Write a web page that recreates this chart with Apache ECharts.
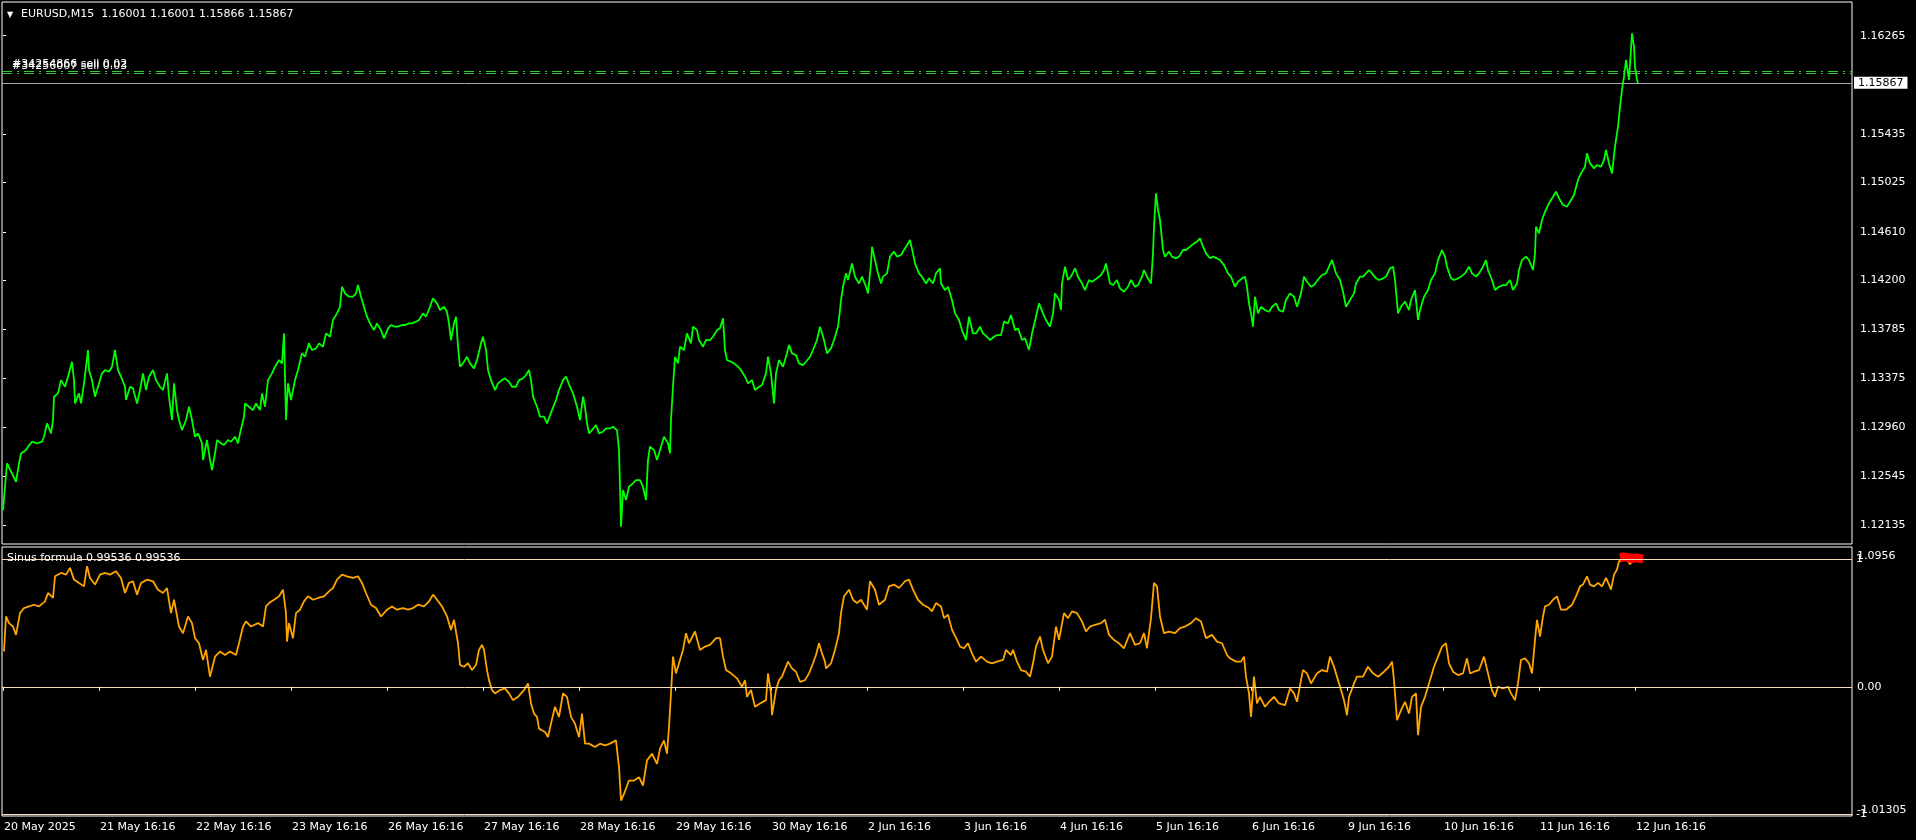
<!DOCTYPE html>
<html>
<head>
<meta charset="utf-8">
<script src="https://cdn.jsdelivr.net/npm/echarts@6/dist/echarts.min.js"></script>
<style>html,body{margin:0;padding:0;background:#000;}#c{width:1916px;height:840px;}</style>
</head>
<body>
<div id="c"></div>
<script>
// ---- Data (bar index on M15, 96 bars per day) ----
const priceA = [
[0,1.12261],[4,1.12655],[13,1.12500],[16,1.12655],[18,1.12739],[23,1.12767],[25,1.12796],[29,1.12838],[34,1.12824],[39,1.12838],
[41,1.12880],[44,1.12993],[48,1.12908],[50,1.13021],[51,1.13218],[55,1.13246],[58,1.13358],[62,1.13302],[65,1.13387],[69,1.13513],
[71,1.13358],[72,1.13161],[76,1.13246],[78,1.13161],[81,1.13330],[85,1.13612],[86,1.13443],[89,1.13358],[92,1.13218],[95,1.13302],
[99,1.13415],[102,1.13443],[106,1.13429],[109,1.13471],[112,1.13612],[115,1.13443],[118,1.13387],[122,1.13302],[123,1.13190],[127,1.13302],
[130,1.13288],[134,1.13161],[137,1.13274],[140,1.13415],[143,1.13274],[146,1.13387],[150,1.13443],[153,1.13358],[157,1.13302],[160,1.13274],
[164,1.13415],[166,1.13218],[169,1.13021],[171,1.13330],[174,1.13105],[176,1.13021],[179,1.12936],[183,1.13021],[186,1.13133],[189,1.13021],
[192,1.12880],[195,1.12908],[199,1.12824],[200,1.12683],[204,1.12852],[207,1.12683],[209,1.12599],[212,1.12739],[214,1.12852],[218,1.12824],
[221,1.12810],[225,1.12852],[228,1.12838],[232,1.12880],[235,1.12824],[237,1.12908],[241,1.13049],[242,1.13161],[246,1.13133],[250,1.13105],
[253,1.13161],[257,1.13105],[259,1.13246],[262,1.13133],[265,1.13358],[269,1.13415],[272,1.13471],[276,1.13527],[279,1.13499],[281,1.13752],
[283,1.13021],[285,1.13330],[288,1.13190],[292,1.13358],[295,1.13443],[299,1.13584],[302,1.13555],[306,1.13668],[309,1.13612],[313,1.13626],
[316,1.13668],[320,1.13640],[323,1.13752],[327,1.13724],[330,1.13865],[334,1.13921],[337,1.13977],[339,1.14146],[342,1.14090],[346,1.14062],
[350,1.14062],[353,1.14090],[355,1.14160],[358,1.14062],[361,1.13977],[364,1.13893],[367,1.13837],[371,1.13780],[374,1.13837],[378,1.13780],
[381,1.13710],[385,1.13795],[388,1.13823],[392,1.13809],[395,1.13809],[399,1.13823],[402,1.13823],[406,1.13837],[409,1.13837],[413,1.13851],
[416,1.13865],[420,1.13921],[423,1.13893],[427,1.13977],[430,1.14048],[434,1.14006],[437,1.13949],[441,1.13977],[444,1.13935],[446,1.13837],
[448,1.13696],[451,1.13837],[453,1.13893],[455,1.13640],[457,1.13471],[460,1.13499],[464,1.13555],[467,1.13499],[471,1.13457],[474,1.13527],
[478,1.13668],[480,1.13724],[483,1.13612],[485,1.13443],[488,1.13358],[492,1.13274],[495,1.13330],[499,1.13358],[502,1.13373],[506,1.13344],
[509,1.13302],[513,1.13302],[516,1.13358],[520,1.13373],[523,1.13401],[526,1.13443],[528,1.13358],[530,1.13218],[534,1.13133],[537,1.13049],
[541,1.13049],[544,1.12993]
];
const priceB = [
[546,1.12979],[549,1.13105],[553,1.13190],[556,1.13274],[560,1.13358],[563,1.13387],[567,1.13302],[570,1.13246],[574,1.13133],[577,1.13021],
[580,1.13218],[582,1.13133],[584,1.12993],[586,1.12908],[589,1.12936],[593,1.12979],[596,1.12908],[600,1.12922],[603,1.12950],[607,1.12950],
[610,1.12964],[614,1.12936],[616,1.12767],[617,1.12458],[618,1.12120],[620,1.12430],[623,1.12345],[626,1.12458],[630,1.12486],[633,1.12514],
[637,1.12514],[640,1.12458],[643,1.12345],[645,1.12683],[647,1.12796],[651,1.12767],[654,1.12683],[658,1.12796],[661,1.12880],[665,1.12824],
[667,1.12739],[668,1.13021],[670,1.13302],[672,1.13555],[675,1.13499],[677,1.13640],[681,1.13612],[684,1.13752],[688,1.13668],[690,1.13809],
[694,1.13780],[696,1.13696],[700,1.13640],[703,1.13696],[707,1.13696],[710,1.13724],[714,1.13780],[717,1.13795],[720,1.13879],[722,1.13612],
[724,1.13527],[728,1.13513],[731,1.13499],[735,1.13471],[738,1.13443],[742,1.13387],[745,1.13330],[749,1.13358],[752,1.13274],[756,1.13302],
[759,1.13316],[763,1.13415],[765,1.13555],[768,1.13415],[771,1.13161],[773,1.13415],[776,1.13527],[780,1.13471],[784,1.13584],[786,1.13654],
[789,1.13584],[793,1.13569],[796,1.13499],[800,1.13485],[803,1.13513],[807,1.13555],[810,1.13612],[814,1.13696],[817,1.13809],[821,1.13696],
[824,1.13584],[828,1.13626],[831,1.13696],[835,1.13809],[837,1.13949],[838,1.14034],[840,1.14146],[843,1.14259],[845,1.14203],[849,1.14343],
[852,1.14231],[856,1.14174],[859,1.14231],[863,1.14146],[865,1.14090],[868,1.14343],[869,1.14484],[872,1.14371],[875,1.14259],[878,1.14174],
[880,1.14231],[884,1.14259],[887,1.14400],[891,1.14442],[894,1.14400],[898,1.14414],[901,1.14456],[905,1.14512],[907,1.14540],[910,1.14428],
[912,1.14343],[916,1.14259],[919,1.14231],[923,1.14174],[926,1.14217],[930,1.14174],[933,1.14259],[937,1.14301],[938,1.14174],[942,1.14118],
[945,1.14146],[949,1.14034],[952,1.13921],[956,1.13865],[959,1.13780],[963,1.13696],[966,1.13893],[970,1.13752],[973,1.13752],[977,1.13809],
[980,1.13752],[984,1.13724],[987,1.13696],[991,1.13724],[994,1.13738],[998,1.13738],[1001,1.13851],[1005,1.13837],[1008,1.13907],[1012,1.13780],
[1015,1.13795],[1019,1.13696],[1022,1.13710],[1026,1.13612],[1029,1.13752],[1033,1.13893],[1036,1.14006],[1040,1.13921],[1043,1.13865],[1047,1.13809],
[1050,1.13921],[1052,1.14090],[1056,1.14034],[1058,1.13949],[1059,1.14174],[1062,1.14315],[1065,1.14203],[1068,1.14231],[1072,1.14301],[1075,1.14231],
[1079,1.14174],[1082,1.14118],[1086,1.14203],[1089,1.14188]
];
const priceC = [
[1091,1.14188],[1094,1.14217],[1098,1.14245],[1101,1.14287],[1103,1.14343],[1107,1.14174],[1110,1.14160],[1114,1.14203],[1117,1.14132],[1121,1.14104],
[1125,1.14146],[1128,1.14203],[1132,1.14146],[1135,1.14160],[1139,1.14231],[1141,1.14287],[1144,1.14231],[1148,1.14174],[1150,1.14428],[1151,1.14653],
[1153,1.14934],[1155,1.14794],[1157,1.14709],[1158,1.14625],[1160,1.14456],[1162,1.14400],[1166,1.14442],[1169,1.14400],[1173,1.14386],[1176,1.14400],
[1180,1.14456],[1183,1.14456],[1187,1.14484],[1191,1.14512],[1194,1.14526],[1197,1.14554],[1200,1.14484],[1203,1.14428],[1207,1.14386],[1210,1.14400],
[1214,1.14386],[1217,1.14371],[1221,1.14329],[1225,1.14259],[1228,1.14231],[1232,1.14146],[1235,1.14188],[1239,1.14217],[1242,1.14231],[1244,1.14146],
[1246,1.14006],[1248,1.13921],[1250,1.13809],[1252,1.14062],[1255,1.13921],[1258,1.13977],[1262,1.13949],[1266,1.13935],[1269,1.13977],[1273,1.14006],
[1276,1.13949],[1280,1.13935],[1283,1.14034],[1287,1.14090],[1291,1.14062],[1294,1.13977],[1298,1.14090],[1301,1.14231],[1304,1.14188],[1308,1.14146],
[1311,1.14160],[1316,1.14217],[1319,1.14245],[1323,1.14259],[1326,1.14315],[1329,1.14371],[1333,1.14259],[1337,1.14203],[1340,1.14104],[1343,1.13977],
[1347,1.14034],[1351,1.14090],[1353,1.14174],[1357,1.14231],[1360,1.14231],[1366,1.14287],[1369,1.14259],[1373,1.14217],[1376,1.14203],[1380,1.14217],
[1383,1.14231],[1387,1.14301],[1390,1.14315],[1392,1.14203],[1395,1.13921],[1398,1.13977],[1402,1.14020],[1406,1.13949],[1408,1.14034],[1412,1.14118],
[1415,1.13865],[1417,1.13949],[1421,1.14062],[1425,1.14118],[1428,1.14203],[1432,1.14259],[1435,1.14371],[1439,1.14456],[1442,1.14400],[1444,1.14315],
[1448,1.14217],[1451,1.14203],[1455,1.14217],[1458,1.14231],[1462,1.14259],[1466,1.14315],[1469,1.14259],[1473,1.14231],[1476,1.14259],[1480,1.14315],
[1483,1.14371],[1485,1.14287],[1489,1.14203],[1492,1.14118],[1496,1.14146],[1500,1.14160],[1503,1.14160],[1507,1.14203],[1510,1.14118],[1514,1.14174],
[1516,1.14287],[1519,1.14371],[1523,1.14400],[1526,1.14371],[1530,1.14287],[1532,1.14428],[1533,1.14653],[1536,1.14597],[1539,1.14709],[1542,1.14779],
[1546,1.14850],[1550,1.14906],[1553,1.14948],[1557,1.14878],[1560,1.14836],[1564,1.14822],[1567,1.14864],[1571,1.14920],[1575,1.15047],[1578,1.15103],
[1582,1.15159],[1584,1.15272],[1587,1.15187],[1591,1.15145],[1594,1.15173],[1598,1.15159],[1601,1.15216],[1603,1.15300],[1606,1.15187],[1609,1.15103],
[1612,1.15328],[1615,1.15497],[1617,1.15666],[1619,1.15807],[1621,1.15919],[1623,1.16060],[1626,1.15891],[1629,1.16285],[1631,1.16172],[1632,1.16004],
[1634,1.15891],[1635,1.15867]
];
const sinusA = [
[1,0.276],[3,0.551],[6,0.499],[10,0.472],[13,0.407],[17,0.577],[21,0.617],[26,0.630],[31,0.643],[36,0.630],
[42,0.669],[45,0.735],[50,0.696],[52,0.866],[58,0.892],[63,0.879],[67,0.932],[71,0.840],[76,0.814],[81,0.787],
[84,0.945],[87,0.853],[92,0.801],[97,0.879],[102,0.892],[107,0.879],[113,0.906],[118,0.853],[122,0.735],[126,0.814],
[130,0.827],[134,0.722],[138,0.814],[144,0.840],[150,0.827],[155,0.761],[160,0.735],[164,0.774],[168,0.577],[171,0.682],
[176,0.472],[180,0.420],[185,0.551],[189,0.499],[192,0.381],[196,0.341],[200,0.210],[203,0.289],[207,0.079],[212,0.236],
[217,0.276],[222,0.249],[227,0.276],[233,0.249],[236,0.341],[240,0.472],[243,0.512],[248,0.472],[255,0.499],[260,0.472],
[263,0.630],[266,0.656],[271,0.682],[276,0.709],[280,0.761],[283,0.577],[284,0.354],[286,0.499],[290,0.381],[293,0.577],
[297,0.604],[301,0.669],[305,0.709],[310,0.682],[315,0.696],[321,0.709],[326,0.748],[330,0.774],[334,0.840],[339,0.879],
[344,0.866],[350,0.853],[355,0.866],[359,0.814],[363,0.735],[368,0.643],[373,0.617],[378,0.551],[384,0.604],[389,0.630],
[394,0.604],[400,0.617],[405,0.604],[410,0.617],[415,0.643],[421,0.630],[426,0.669],[430,0.722],[434,0.682],[439,0.630],
[444,0.551],[448,0.446],[451,0.525],[455,0.341],[457,0.171],[461,0.157],[465,0.184],[469,0.131],[473,0.171],[476,0.289],
[479,0.328],[481,0.289],[484,0.131],[486,0.052],[489,-0.026],[492,-0.052],[497,-0.026],[502,-0.013],[506,-0.052],[510,-0.105],
[515,-0.079],[521,-0.026],[525,0.026],[528,-0.131],[531,-0.210],[534,-0.236],[536,-0.328],[542,-0.354],[545,-0.394],[548,-0.289],
[552,-0.157],[556,-0.236],[560,-0.052],[564,-0.079],[568,-0.236],[572,-0.289],[576,-0.394],[579,-0.210],[582,-0.446],[586,-0.446],
[592,-0.472],[597,-0.446],[602,-0.459],[607,-0.446],[613,-0.420],[616,-0.630],[618,-0.892],[621,-0.840],[626,-0.735],[631,-0.735],
[636,-0.709],[640,-0.774],[644,-0.577],[649,-0.525],[654,-0.604],[657,-0.485],[661,-0.420],[664,-0.525],[666,-0.315],[668,-0.052],
[670,0.236],[673,0.105],[677,0.210],[680,0.289],[683,0.420],[686,0.341],[692,0.433],[697,0.289],[702,0.315],[707,0.328],
[713,0.381],[717,0.381],[720,0.236],[723,0.131],[728,0.105],[734,0.066],[739,0.000],[742,0.052],[744,-0.079],[748,-0.026],
[752,-0.157],[757,-0.131],[763,-0.105],[765,0.105],[768,-0.052],[769,-0.223],[773,-0.026],[776,0.052],[779,0.079],[785,0.197],
[789,0.144],[793,0.118],[797,0.039],[802,0.052],[806,0.105],[810,0.184],[813,0.249],[816,0.341],[819,0.262],[822,0.197]
];
const sinusB = [
[823,0.144],[828,0.184],[832,0.289],[836,0.420],[838,0.577],[841,0.709],[846,0.761],[850,0.682],[854,0.656],[858,0.682],
[864,0.604],[867,0.827],[872,0.761],[876,0.643],[882,0.682],[886,0.787],[891,0.801],[896,0.774],[902,0.827],[906,0.840],
[910,0.761],[915,0.682],[920,0.643],[926,0.617],[929,0.591],[933,0.656],[938,0.630],[941,0.538],[945,0.564],[949,0.446],
[954,0.367],[957,0.315],[961,0.302],[965,0.341],[969,0.262],[973,0.197],[978,0.236],[984,0.197],[989,0.184],[994,0.197],
[1000,0.210],[1003,0.289],[1008,0.249],[1010,0.289],[1014,0.197],[1018,0.131],[1023,0.118],[1027,0.079],[1030,0.184],[1033,0.315],
[1037,0.394],[1040,0.289],[1045,0.184],[1049,0.236],[1053,0.472],[1056,0.367],[1061,0.577],[1065,0.538],[1069,0.591],[1074,0.577],
[1079,0.512],[1083,0.433],[1087,0.472],[1092,0.486],[1098,0.499],[1102,0.525],[1106,0.407],[1111,0.367],[1116,0.341],[1121,0.302],
[1127,0.420],[1132,0.328],[1137,0.341],[1141,0.420],[1144,0.302],[1148,0.538],[1151,0.814],[1154,0.787],[1157,0.551],[1161,0.420],
[1166,0.433],[1172,0.420],[1177,0.459],[1182,0.472],[1188,0.499],[1193,0.538],[1198,0.512],[1203,0.381],[1209,0.407],[1214,0.354],
[1219,0.341],[1224,0.249],[1227,0.223],[1233,0.197],[1238,0.197],[1241,0.236],[1243,0.079],[1246,-0.052],[1248,-0.236],[1251,0.079],
[1254,-0.131],[1257,-0.079],[1262,-0.157],[1266,-0.118],[1271,-0.079],[1276,-0.131],[1282,-0.144],[1287,-0.013],[1291,-0.052],[1294,-0.118],
[1298,0.052],[1300,0.131],[1304,0.105],[1308,0.026],[1314,0.105],[1319,0.131],[1324,0.118],[1327,0.236],[1331,0.157],[1335,0.052],
[1338,-0.026],[1341,-0.105],[1344,-0.223],[1346,-0.079],[1351,0.026],[1354,0.079],[1360,0.079],[1365,0.157],[1370,0.105],[1375,0.079],
[1381,0.118],[1386,0.157],[1389,0.197],[1391,0.052],[1394,-0.262],[1398,-0.184],[1402,-0.118],[1406,-0.210],[1409,-0.079],[1413,-0.052],
[1415,-0.380],[1418,-0.157],[1422,-0.079],[1426,0.026],[1431,0.157],[1435,0.236],[1439,0.315],[1443,0.341],[1446,0.184],[1450,0.118],
[1455,0.092],[1460,0.105],[1464,0.223],[1467,0.105],[1471,0.118],[1476,0.131],[1481,0.236],[1485,0.105],[1489,-0.026],[1492,-0.079],
[1495,0.000],[1500,-0.013],[1505,0.000],[1508,-0.052],[1512,-0.105],[1515,0.026],[1518,0.210],[1522,0.223],[1526,0.184],[1529,0.105],
[1532,0.367],[1534,0.525],[1537,0.394],[1540,0.551],[1542,0.630],[1546,0.643],[1550,0.682],[1554,0.709],[1558,0.604],[1563,0.604],
[1569,0.643],[1573,0.709],[1577,0.787],[1580,0.801],[1584,0.866],[1587,0.801],[1591,0.787],[1595,0.814],[1599,0.787],[1603,0.853],
[1606,0.801],[1608,0.761],[1611,0.879],[1614,0.919],[1616,0.984],[1620,0.990],[1624,1.000],[1627,0.960],[1630,0.990],[1634,0.995]
];
const sinusRed = [[1617,1.012],[1621,1.018],[1625,1.012],[1629,1.005],[1633,1.010],[1637,1.005],[1640,1.003]];

const xTickBars = [0,96,192,288,384,480,576,672,768,864,960,1056,1152,1248,1344,1440,1536,1632];
const xTickLabels = ['20 May 2025','21 May 16:16','22 May 16:16','23 May 16:16','26 May 16:16','27 May 16:16','28 May 16:16','29 May 16:16','30 May 16:16','2 Jun 16:16','3 Jun 16:16','4 Jun 16:16','5 Jun 16:16','6 Jun 16:16','9 Jun 16:16','10 Jun 16:16','11 Jun 16:16','12 Jun 16:16'];
const priceTicks = [1.12135,1.12545,1.12960,1.13375,1.13785,1.14200,1.14610,1.15025,1.15435,1.16265];
const sinusTicks = [-1.01305,0,1.0956];
const sinusTickLabels = ['-1.01305','0.00','1.0956'];
const sinusLevelTicks = [-1,1];
const sinusLevelLabels = ['-1','1'];
const priceRange = [1.119745, 1.165495];
const sinusRange = [-1.01305, 1.0956];
const lastPrice = 1.15867;
const orders = [{price:1.15967, text:'#34254866 sell 0.02'},{price:1.15950, text:'#34256007 sell 0.03'}];
const sinusLevels = [1, 0, -1];
const headerText = 'EURUSD,M15  1.16001 1.16001 1.15866 1.15867';
const sinusText = 'Sinus formula 0.99536 0.99536';

const FONT = '"DejaVu Sans", Verdana, sans-serif';
const chart = echarts.init(document.getElementById('c'), null, {renderer:'canvas', width:1916, height:840});
const price = priceA.concat(priceB, priceC);
const sinus = sinusA.concat(sinusB);

const option = {
  backgroundColor:'#000',
  animation:false,
  textStyle:{fontFamily:FONT},
  grid:[
    {left:2, top:2, width:1850, height:542, show:true, borderColor:'#fff', borderWidth:1},
    {left:2, top:547, width:1850, height:269, show:true, borderColor:'#fff', borderWidth:1}
  ],
  xAxis:[
    {gridIndex:0, type:'value', min:-1, max:1849, show:false},
    {gridIndex:1, type:'value', min:-1, max:1849, splitLine:{show:false}, axisLine:{show:false},
     axisTick:{show:true, customValues:xTickBars, length:4, lineStyle:{color:'#fff'}},
     axisLabel:{customValues:xTickBars, formatter:v=>xTickLabels[Math.round(v/96)], color:'#fff', fontSize:11, fontFamily:FONT, align:'left', margin:6, padding:[0,0,0,1], hideOverlap:false}}
  ],
  yAxis:[
    {gridIndex:0, type:'value', position:'right', min:priceRange[0], max:priceRange[1], splitLine:{show:false}, axisLine:{show:false},
     axisTick:{show:true, customValues:priceTicks, length:3, lineStyle:{color:'#fff'}},
     axisLabel:{customValues:priceTicks, formatter:v=>v.toFixed(5), color:'#fff', fontSize:11, fontFamily:FONT, margin:8, hideOverlap:false}},
    {gridIndex:1, type:'value', position:'right', min:sinusRange[0], max:sinusRange[1], splitLine:{show:false}, axisLine:{show:false},
     axisTick:{show:false},
     axisLabel:{customValues:sinusTicks, color:'#fff', fontSize:11, fontFamily:FONT, margin:5, hideOverlap:false,
       showMinLabel:true, showMaxLabel:true,
       formatter:v=>{
         let i = sinusTicks.findIndex(t=>Math.abs(t-v)<1e-6);
         const s = sinusTickLabels[i];
         if (i===2) return '{t|'+s+'}';
         if (i===0) return '{b|'+s+'}';
         return s;
       },
       rich:{t:{padding:[18,0,0,0], color:'#fff', fontSize:11, fontFamily:FONT}, b:{padding:[0,0,12,0], color:'#fff', fontSize:11, fontFamily:FONT}}}},
    {gridIndex:1, type:'value', position:'right', min:sinusRange[0], max:sinusRange[1], splitLine:{show:false}, axisLine:{show:false},
     axisTick:{show:false},
     axisLabel:{customValues:sinusLevelTicks, color:'#fff', fontSize:11, fontFamily:FONT, margin:4, hideOverlap:false,
       formatter:v=>sinusLevelLabels[v<0?0:1],
       rich:{}}}
  ],
  graphic:[
    {type:'text', left:7, top:11, z:100, style:{text:'▼', fill:'#fff', font:'8px '+FONT}},
    {type:'text', left:21, top:9, z:100, style:{text:headerText, fill:'#fff', font:'11px '+FONT}},
    {type:'text', left:7, top:553, z:100, style:{text:sinusText, fill:'#fff', font:'11px '+FONT}}
  ],
  series:[
    {type:'line', xAxisIndex:0, yAxisIndex:0, data:price, showSymbol:false, silent:true,
     lineStyle:{color:'#00ff00', width:1.8}, z:3,
     markLine:{silent:true, symbol:['none','none'], animation:false, precision:5,
       data:[
         {yAxis:lastPrice, lineStyle:{color:'#a8a8a8', type:'solid', width:1},
          label:{show:true, position:'end', formatter:lastPrice.toFixed(5), backgroundColor:'#fff', color:'#000', padding:[1,4,0,4], fontSize:11, fontFamily:FONT, distance:2}},
         ...orders.map(o=>({yAxis:o.price, lineStyle:{color:'#32cd32', type:[10,5,2,5], width:1},
          label:{show:true, position:'insideStartTop', formatter:o.text, color:'#fff', fontSize:11, fontFamily:FONT, distance:[10,1]}}))
       ]}},
    {type:'line', xAxisIndex:1, yAxisIndex:1, data:sinus, showSymbol:false, silent:true,
     lineStyle:{color:'#ffa500', width:1.8}, z:3,
     markLine:{silent:true, symbol:['none','none'], animation:false, precision:5, label:{show:false},
       lineStyle:{color:'#f5deb3', type:'solid', width:1},
       data:sinusLevels.map(v=>({yAxis:v}))}},
    {type:'line', xAxisIndex:1, yAxisIndex:1, data:sinusRed, showSymbol:false, silent:true,
     lineStyle:{color:'#ff0000', width:9}, z:4}
  ]
};
chart.setOption(option);
</script>
</body>
</html>
